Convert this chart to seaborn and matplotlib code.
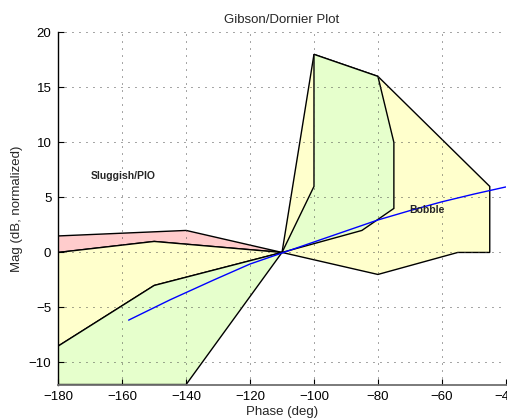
import matplotlib
matplotlib.use("Agg")
import matplotlib.pyplot as plt
import seaborn as sns
import pandas as pd

# ---- data ----
red_phase = [-180, -140, -110, -150, -180]
red_mag = [1.5, 2.0, 0.0, 1.0, 0.0]

yellow_left_phase = [-180, -150, -110, -150, -180]
yellow_left_mag = [0.0, 1.0, 0.0, -3.0, -8.5]

green_left_phase = [-180, -150, -110, -140, -180]
green_left_mag = [-8.5, -3.0, 0.0, -12.0, -12.0]

yellow_right_phase = [-110, -100, -80, -45, -45, -55, -80]
yellow_right_mag = [0.0, 18.0, 16.0, 6.0, 0.0, 0.0, -2.0]

green_right_phase = [-110, -100, -100, -80, -75, -75, -80, -85]
green_right_mag = [0.0, 6.0, 18.0, 16.0, 10.0, 4.0, 3.0, 2.0]

resp_phase = [-158, -145, -131.5, -120, -110, -100, -90, -80, -70, -60, -50, -40]
resp_mag = [-6.15, -4.3, -2.52, -1.05, -0.05, 0.95, 1.95, 2.95, 3.8, 4.6, 5.3, 5.95]

xticks = [-180, -160, -140, -120, -100, -80, -60, -40]
yticks = [-10, -5, 0, 5, 10, 15, 20]

# ---- style ----
sns.set_style("white")
plt.rcParams['font.family'] = ['Liberation Sans', 'DejaVu Sans']
plt.rcParams['axes.unicode_minus'] = True

fig = plt.figure(figsize=(5.07, 4.20), dpi=100)
ax = fig.add_axes([0.115, 0.0845, 0.8825, 0.8385])

RED = (1.0, 0.8, 0.8)
YEL = (1.0, 1.0, 0.8)
GRN = (0.9, 1.0, 0.8)

ax.fill(red_phase, red_mag, facecolor=RED, edgecolor='black', lw=1.0)
ax.fill(yellow_left_phase, yellow_left_mag, facecolor=YEL, edgecolor='black', lw=1.0)
ax.fill(green_left_phase, green_left_mag, facecolor=GRN, edgecolor='black', lw=1.0)
ax.fill(yellow_right_phase, yellow_right_mag, facecolor=YEL, edgecolor='black', lw=1.0)
ax.fill(green_right_phase, green_right_mag, facecolor=GRN, edgecolor='black', lw=1.0)

df = pd.DataFrame({"phase": resp_phase, "mag": resp_mag})
sns.lineplot(data=df, x="phase", y="mag", ax=ax, color='blue', lw=1.0,
             sort=False, estimator=None, zorder=3)

ax.text(-170, 6.93, "Sluggish/PIO", fontsize=7.5, fontweight='bold',
        ha='left', va='center')
ax.text(-70.1, 3.9, "Bobble", fontsize=7.5, fontweight='bold',
        ha='left', va='center', zorder=4)

ax.set_xlim(-180, -40)
ax.set_ylim(-12, 20)
ax.set_xticks(xticks)
ax.set_yticks(yticks)
ax.set_axisbelow('line')
ax.grid(True, linestyle=(0, (1, 6.2)), color='#444444', lw=0.7)

ax.tick_params(direction='in', length=4, width=0.8, labelsize=9.5,
               colors='black', pad=5, left=True, bottom=True)
for s in ['top', 'right']:
    ax.spines[s].set_visible(False)
ax.spines['left'].set_color('black')
ax.spines['left'].set_linewidth(1.0)
ax.spines['bottom'].set_color('#707070')
ax.spines['bottom'].set_linewidth(1.3)

ax.set_xlabel("Phase (deg)", fontsize=9.5, labelpad=2)
ax.set_ylabel("Mag (dB, normalized)", fontsize=9.5, labelpad=4)
ax.set_title("Gibson/Dornier Plot", fontsize=9.5, pad=7)

fig.savefig("out.png", dpi=100)
